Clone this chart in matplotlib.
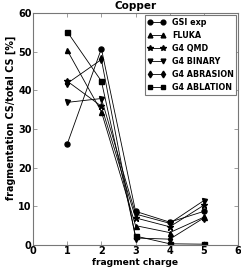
import matplotlib
matplotlib.use("Agg")
import matplotlib.pyplot as plt

charges = [1, 2, 3, 4, 5]
gsi_exp = [26.1, 50.8, 8.7, 5.9, 8.7]
fluka = [50.4, 34.5, 5.0, 3.2, 7.2]
g4_qmd = [42.4, 35.9, 7.0, 4.7, 10.3]
g4_binary = [36.9, 37.9, 8.0, 5.6, 11.5]
g4_abrasion = [41.8, 48.0, 1.8, 1.5, 7.0]
g4_ablation = [55.2, 42.4, 2.3, 0.3, 0.2]

series = [
    ("GSI exp", gsi_exp, "o"),
    ("FLUKA", fluka, "^"),
    ("G4 QMD", g4_qmd, "*"),
    ("G4 BINARY", g4_binary, "v"),
    ("G4 ABRASION", g4_abrasion, "d"),
    ("G4 ABLATION", g4_ablation, "s"),
]

plt.rcParams['font.family'] = ['DejaVu Sans']
plt.rcParams['font.weight'] = 'bold'

fig = plt.figure(figsize=(2.41, 2.68), dpi=100)
ax = fig.add_axes([0.137, 0.086, 0.851, 0.865])

for name, vals, m in series:
    ax.plot(charges, vals, marker=m, color='black', lw=0.6, ms=3.6 if m != '*' else 4.5,
            label=name)

ax.set_xlim(0, 6)
ax.set_ylim(0, 60)
ax.set_xticks([0, 1, 2, 3, 4, 5, 6])
ax.set_yticks([0, 10, 20, 30, 40, 50, 60])
ax.tick_params(direction='in', top=True, right=True, labelsize=7, length=3, width=0.5,
               pad=1, color='#777777')
for lab in ax.get_xticklabels() + ax.get_yticklabels():
    lab.set_fontweight('bold')
for s in ax.spines.values():
    s.set_linewidth(0.8)
    s.set_color('#777777')

ax.set_xlabel('fragment charge', fontsize=6.6, fontweight='bold', labelpad=1)
ax.set_ylabel('fragmentation CS/total CS [%]', fontsize=6.9, fontweight='bold')
ax.yaxis.set_label_coords(-0.085, 0.55)
ax.set_title('Copper', fontsize=7.5, fontweight='bold', pad=3)

leg = ax.legend(loc='upper right', numpoints=2, prop={'weight': 'bold', 'size': 5.8},
                fancybox=False, edgecolor='#777777', framealpha=1, markerscale=0.95,
                handlelength=2.2, handletextpad=0.8, labelspacing=0.5,
                borderpad=0.35, borderaxespad=0.2)
leg.get_frame().set_linewidth(0.8)

fig.savefig('out.png', dpi=100)
